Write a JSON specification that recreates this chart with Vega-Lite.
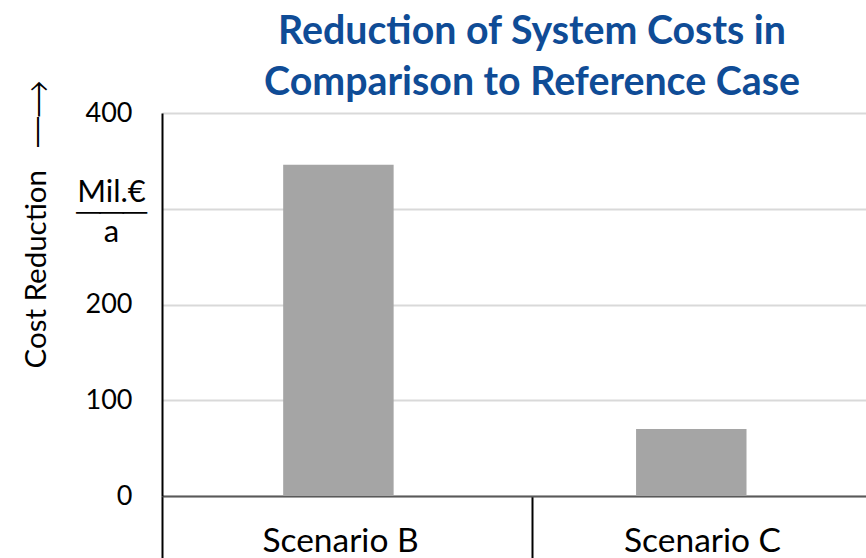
{
  "$schema": "https://vega.github.io/schema/vega-lite/v6.json",
  "width": 740,
  "height": 383,
  "autosize": "none",
  "padding": {"left": 162, "top": 113, "right": 0, "bottom": 62},
  "background": "white",
  "config": {"view": {"stroke": null}, "font": "Lato"},
  "title": {
    "text": ["Reduction of System Costs in", "Comparison to Reference Case"],
    "font": "Lato",
    "fontSize": 39.3,
    "fontWeight": "bold",
    "color": "#0F4C96",
    "anchor": "middle",
    "frame": "group",
    "lineHeight": 51,
    "dy": 27
  },
  "data": {
    "values": [
      {"scenario": "Scenario B", "reduction": 346},
      {"scenario": "Scenario C", "reduction": 70}
    ]
  },
  "layer": [
    {
      "mark": {"type": "bar", "color": "#A5A5A5"},
      "encoding": {
        "x": {
          "field": "scenario",
          "type": "nominal",
          "scale": {"paddingInner": 0.687, "paddingOuter": 0.392, "align": 0.438},
          "axis": null
        },
        "y": {
          "field": "reduction",
          "type": "quantitative",
          "scale": {"domain": [0, 400], "nice": false},
          "axis": {
            "values": [0, 100, 200, 300, 400],
            "domainColor": "#000000",
            "domainWidth": 2,
            "ticks": false,
            "tickSize": 0,
            "grid": true,
            "gridColor": "#D9D9D9",
            "gridWidth": 2,
            "labelOverlap": false,
            "labelFont": "Lato",
            "labelColor": "#000000",
            "labelBaseline": "middle",
            "labelLineHeight": 20,
            "labelExpr": "datum.value == 300 ? ['Mil.€', '───', 'a'] : datum.label",
            "labelFontSize": {"condition": {"test": "datum.value == 300", "value": 31}, "value": 27},
            "labelAlign": {"condition": {"test": "datum.value == 300", "value": "center"}, "value": "right"},
            "labelPadding": {"condition": {"test": "datum.value == 300", "value": 51}, "value": 30},
            "labelOffset": {"condition": {"test": "datum.value == 300", "value": -16}, "value": 0},
            "title": "Cost Reduction\u00a0\u00a0\u00a0⎯⎯⟶",
            "titleFont": "Lato",
            "titleFontSize": 29.5,
            "titleFontWeight": "normal",
            "titleColor": "#000000",
            "titleAngle": -90,
            "titleAlign": "left",
            "titleBaseline": "alphabetic",
            "titleX": -117,
            "titleY": 255
          }
        }
      }
    },
    {
      "mark": {"type": "point", "opacity": 0},
      "encoding": {
        "x": {
          "field": "scenario",
          "type": "nominal",
          "scale": {"paddingInner": 0, "paddingOuter": 0},
          "axis": {
            "title": null,
            "tickBand": "extent",
            "tickColor": "#000000",
            "tickWidth": 2,
            "tickSize": 70,
            "domainColor": "#595959",
            "domainWidth": 2,
            "grid": false,
            "labelFont": "Lato",
            "labelFontSize": 33.5,
            "labelColor": "#000000",
            "labelAngle": 0,
            "labelBaseline": "top",
            "labelPadding": -41,
            "labelOffset": {"expr": "datum.value == 'Scenario C' ? -15 : -7"}
          }
        }
      }
    }
  ],
  "resolve": {"scale": {"x": "independent"}}
}
